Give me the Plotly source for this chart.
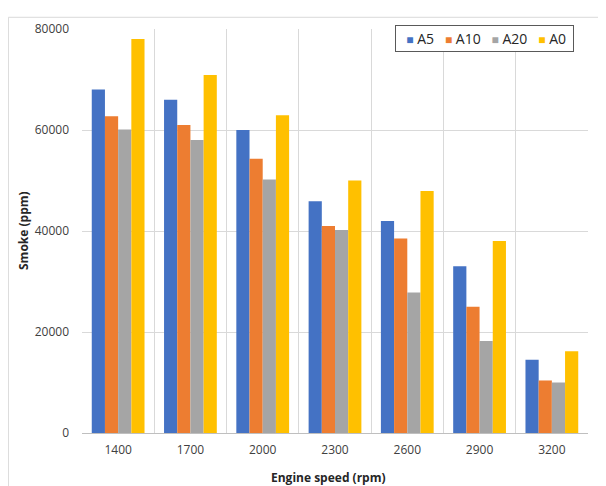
import plotly.graph_objects as go

categories = ["1400", "1700", "2000", "2300", "2600", "2900", "3200"]
a5 = [68000, 66000, 60000, 45900, 42000, 33000, 14500]
a10 = [62700, 61000, 54300, 41000, 38500, 25000, 10400]
a20 = [60100, 58000, 50200, 40200, 27800, 18200, 10000]
a0 = [78000, 70900, 62900, 50000, 47900, 38000, 16200]

series = [("A5", a5, "#4472C4"), ("A10", a10, "#ED7D31"),
          ("A20", a20, "#A5A5A5"), ("A0", a0, "#FFC000")]

fig = go.Figure()
for name, vals, col in series:
    fig.add_trace(go.Bar(x=categories, y=vals, name=name, marker_color=col,
                         marker_line_width=0, showlegend=False))

NB = "\u00a0"
parts = []
for name, vals, col in series:
    parts.append(f'<span style="color:{col};font-size:12px">\u25A0</span>{NB}{name}')
legend_text = NB * 2 + (NB * 3).join(parts) + NB

font = "Open Sans, Liberation Sans, sans-serif"
fig.update_layout(
    width=606, height=486,
    margin=dict(l=74, r=26, t=15, b=61),
    paper_bgcolor="white", plot_bgcolor="white",
    barmode="group", bargap=0.27, bargroupgap=0,
    font=dict(family=font, size=12, color="#404040"),
    showlegend=False,
    xaxis=dict(showgrid=True, gridcolor="#d9d9d9", tickson="boundaries",
               showline=True, linecolor="#bfbfbf", linewidth=1,
               ticks="", tickfont=dict(size=12, color="#404040"),
               ticklabelstandoff=6),
    yaxis=dict(range=[0, 80000], dtick=20000, tickformat="d", showgrid=True,
               gridcolor="#d9d9d9", zeroline=False, showline=False, ticks="",
               tickfont=dict(size=12, color="#404040"), ticklabelstandoff=12),
    shapes=[dict(type="rect", xref="paper", yref="paper",
                 x0=-0.1455, x1=1.08, y0=-0.2, y1=1.029,
                 line=dict(color="#d9d9d9", width=1), fillcolor="rgba(0,0,0,0)",
                 layer="below")],
    annotations=[
        dict(text="<b>Smoke (ppm)</b>", xref="paper", yref="paper", x=-0.1166, y=0.5,
             xanchor="center", yanchor="middle",
             textangle=-90, showarrow=False, font=dict(size=12, color="#262626")),
        dict(text="<b>Engine speed (rpm)</b>", xref="paper", yref="paper", x=0.488,
             y=-0.11, xanchor="center", yanchor="middle",
             showarrow=False, font=dict(size=12, color="#262626")),
        dict(text=legend_text, xref="paper", yref="paper", x=0.972, y=1.011,
             xanchor="right", yanchor="top", showarrow=False, align="left",
             bordercolor="#595959", borderwidth=1, borderpad=3, bgcolor="white",
             font=dict(size=14, color="#262626")),
    ],
)

fig.write_html("out.html")
